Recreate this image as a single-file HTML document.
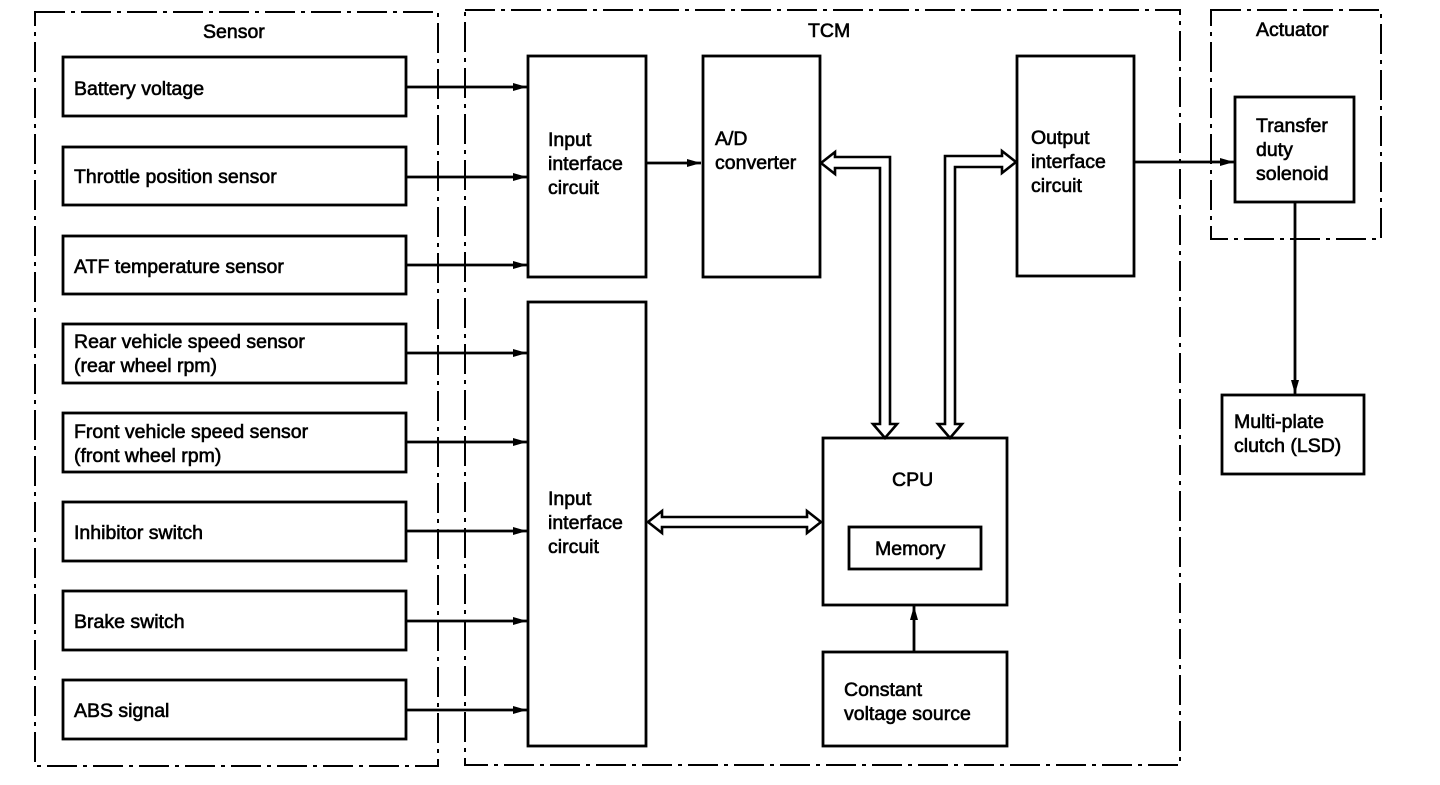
<!DOCTYPE html>
<html><head><meta charset="utf-8"><style>
html,body{margin:0;padding:0;background:#fff;}
text{font-family:"Liberation Sans",Arial,sans-serif;font-size:19.5px;fill:#000;stroke:#000;stroke-width:0.6;}
</style></head><body>
<svg width="1440" height="780" viewBox="0 0 1440 780" xmlns="http://www.w3.org/2000/svg">
<defs><marker id="a" markerWidth="14" markerHeight="10" refX="14" refY="5" orient="auto" markerUnits="userSpaceOnUse"><path d="M0,1 L14,5 L0,9 Z" fill="#000"/></marker></defs>
<g fill="none" stroke="#000" stroke-width="2" stroke-dasharray="30,6,4,6">
<rect x="35" y="12" width="403" height="754"/>
<rect x="465" y="10" width="715" height="755"/>
<rect x="1211" y="10" width="170" height="229"/>
</g>
<text x="203" y="38">Sensor</text>
<text x="808" y="37">TCM</text>
<text x="1256" y="36">Actuator</text>
<g fill="none" stroke="#000" stroke-width="2.8">
<rect x="63" y="57" width="343" height="59"/>
<rect x="63" y="147" width="343" height="58"/>
<rect x="63" y="236" width="343" height="58"/>
<rect x="63" y="324" width="343" height="59"/>
<rect x="63" y="413" width="343" height="59"/>
<rect x="63" y="502" width="343" height="59"/>
<rect x="63" y="591" width="343" height="59"/>
<rect x="63" y="680" width="343" height="59"/>
<rect x="528" y="56" width="118" height="221"/>
<rect x="528" y="302" width="118" height="444"/>
<rect x="703" y="56" width="117" height="221"/>
<rect x="1017" y="56" width="117" height="220"/>
<rect x="823" y="438" width="184" height="167"/>
<rect x="849" y="527" width="132" height="42"/>
<rect x="823" y="652" width="184" height="94"/>
<rect x="1235" y="97" width="119" height="105"/>
<rect x="1222" y="395" width="142" height="79"/>
</g>
<g stroke="#000" stroke-width="2.8" marker-end="url(#a)">
<line x1="406" y1="87" x2="527" y2="87"/>
<line x1="406" y1="177" x2="527" y2="177"/>
<line x1="406" y1="265" x2="527" y2="265"/>
<line x1="406" y1="353" x2="527" y2="353"/>
<line x1="406" y1="442" x2="527" y2="442"/>
<line x1="406" y1="531" x2="527" y2="531"/>
<line x1="406" y1="621" x2="527" y2="621"/>
<line x1="406" y1="710" x2="527" y2="710"/>
<line x1="646" y1="163" x2="701" y2="163"/>
<line x1="1134" y1="162" x2="1234" y2="162"/>
<line x1="1295" y1="202" x2="1295" y2="394"/>
<line x1="914" y1="652" x2="914" y2="606"/>
</g>
<g fill="#fff" stroke="#000" stroke-width="2.6" stroke-linejoin="miter">
<polygon points="821,163 835,152 835,157 890,157 890,424 897,424 885,438 873,424 880,424 880,168 835,168 835,174"/>
<polygon points="1016,162 1002,151 1002,156 945,156 945,424 938,424 950,438 962,424 955,424 955,167 1002,167 1002,173"/>
<polygon points="648,522 662,511 662,517 807,517 807,511 821,522 807,533 807,527 662,527 662,533"/>
</g>
<text x="74" y="95">Battery voltage</text>
<text x="74" y="183">Throttle position sensor</text>
<text x="74" y="273">ATF temperature sensor</text>
<text x="74" y="348">Rear vehicle speed sensor</text>
<text x="74" y="372">(rear wheel rpm)</text>
<text x="74" y="438">Front vehicle speed sensor</text>
<text x="74" y="462">(front wheel rpm)</text>
<text x="74" y="539">Inhibitor switch</text>
<text x="74" y="628">Brake switch</text>
<text x="74" y="717">ABS signal</text>
<text x="548" y="146">Input</text>
<text x="548" y="170">interface</text>
<text x="548" y="194">circuit</text>
<text x="548" y="505">Input</text>
<text x="548" y="529">interface</text>
<text x="548" y="553">circuit</text>
<text x="715" y="145">A/D</text>
<text x="715" y="169">converter</text>
<text x="1031" y="144">Output</text>
<text x="1031" y="168">interface</text>
<text x="1031" y="192">circuit</text>
<text x="892" y="486">CPU</text>
<text x="875" y="555">Memory</text>
<text x="844" y="696">Constant</text>
<text x="844" y="720">voltage source</text>
<text x="1256" y="132">Transfer</text>
<text x="1256" y="156">duty</text>
<text x="1256" y="180">solenoid</text>
<text x="1234" y="428">Multi-plate</text>
<text x="1234" y="452">clutch (LSD)</text>
</svg>
</body></html>
